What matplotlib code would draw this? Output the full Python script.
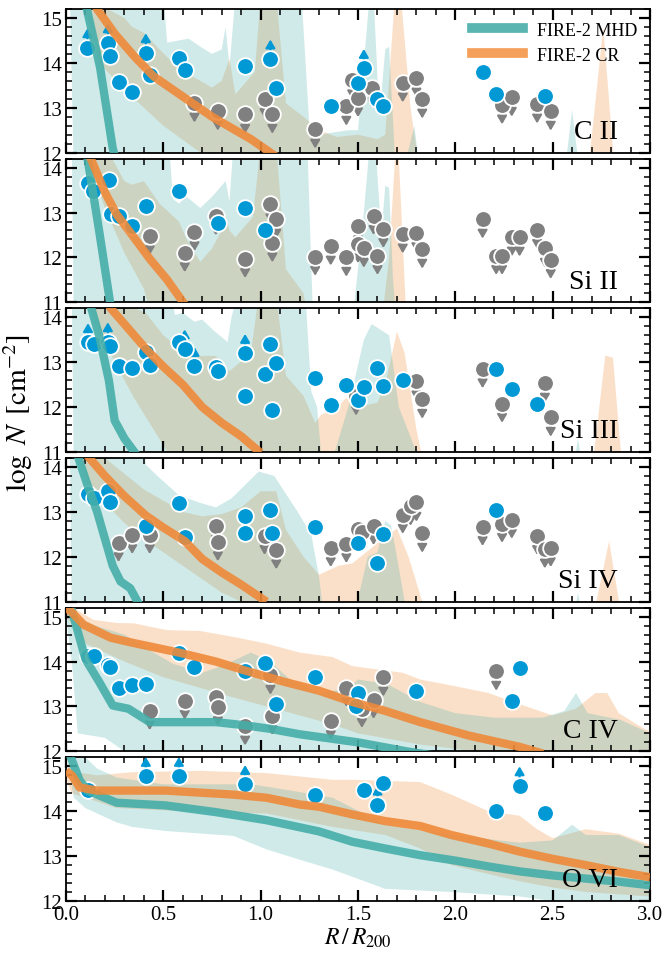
import numpy as np
import matplotlib
matplotlib.use("Agg")
import matplotlib.pyplot as plt
from matplotlib.lines import Line2D
from matplotlib.ticker import MultipleLocator

plt.rcParams['font.family'] = ['Liberation Serif', 'DejaVu Serif']
plt.rcParams['mathtext.fontset'] = 'stix'

MHD_COLOR = '#46aea9'
CR_COLOR = '#ee8a3a'
DET_COLOR = '#0099d6'
LIM_COLOR = '#808080'

# observed columns: R/R200, log N, flag (d = detection, l = lower limit, u = upper limit)
cii_r = [0.11, 0.215, 0.226, 0.27, 0.34, 0.41, 0.43, 0.58, 0.61, 0.66, 0.78, 0.92, 0.92, 1.02, 1.05,
         1.08, 1.06, 1.28, 1.36, 1.44, 1.47, 1.50, 1.50, 1.53, 1.57, 1.60, 1.63, 1.73, 1.80, 1.83,
         2.14, 2.21, 2.24, 2.29, 2.42, 2.46, 2.49]
cii_n = [14.34, 14.45, 14.16, 13.57, 13.35, 14.23, 13.73, 14.11, 13.84, 13.10, 12.92, 13.94, 12.85,
         13.20, 14.09, 13.44, 12.85, 12.52, 13.03, 13.03, 13.62, 13.22, 13.55, 13.88, 13.45, 13.20,
         13.04, 13.55, 13.66, 13.19, 13.80, 13.30, 13.06, 13.23, 13.08, 13.26, 12.92]
cii_f = "lldddldddu" "uduulduudu" "uudludduuu" "dduuudu"

siii_r = [0.113, 0.14, 0.22, 0.23, 0.27, 0.34, 0.41, 0.43, 0.58, 0.66, 0.61, 0.77, 0.78, 0.92, 0.92,
          1.02, 1.05, 1.08, 1.06, 1.28, 1.36, 1.44, 1.50, 1.50, 1.53, 1.58, 1.63, 1.60, 1.73, 1.80,
          1.83, 2.14, 2.21, 2.24, 2.29, 2.33, 2.42, 2.46, 2.49]
siii_n = [13.65, 13.47, 13.72, 12.96, 12.92, 12.69, 13.15, 12.48, 13.49, 12.57, 12.10, 12.92, 12.76,
          13.10, 11.97, 12.62, 13.19, 12.85, 12.32, 12.02, 12.25, 12.00, 12.70, 12.30, 12.20, 12.93,
          12.64, 12.04, 12.52, 12.55, 12.18, 12.85, 12.04, 12.04, 12.45, 12.45, 12.62, 12.20, 11.95]
siii_f = "ddddddduduuudduduuuuuuuuuuuuuuuuuuuuuuu"

siiii_r = [0.113, 0.145, 0.215, 0.226, 0.27, 0.34, 0.41, 0.43, 0.58, 0.61, 0.66, 0.77, 0.78, 0.92,
           0.92, 1.02, 1.05, 1.08, 1.06, 1.28, 1.36, 1.44, 1.49, 1.50, 1.53, 1.60, 1.63, 1.73, 1.80,
           1.83, 2.14, 2.21, 2.29, 2.24, 2.46, 2.42, 2.49]
siiii_n = [13.44, 13.40, 13.46, 13.37, 12.92, 12.87, 13.23, 12.94, 13.44, 13.30, 12.91, 12.90, 12.81,
           13.20, 12.24, 12.74, 13.40, 12.98, 11.94, 12.65, 12.04, 12.50, 12.24, 12.15, 12.44, 12.87,
           12.47, 12.60, 12.58, 12.17, 12.85, 12.85, 12.40, 12.08, 12.53, 12.08, 11.77]
siiii_f = "ldlddddldllddldddddddduddddduuudduudu"

siiv_r = [0.113, 0.145, 0.215, 0.226, 0.27, 0.34, 0.43, 0.41, 0.58, 0.61, 0.77, 0.78, 0.92, 0.92,
          1.02, 1.05, 1.06, 1.08, 1.28, 1.36, 1.44, 1.50, 1.52, 1.58, 1.50, 1.63, 1.60, 1.73, 1.77,
          1.80, 1.83, 2.14, 2.24, 2.29, 2.21, 2.42, 2.46, 2.49]
siiv_n = [13.39, 13.32, 13.46, 13.21, 12.31, 12.49, 12.49, 12.69, 13.20, 12.44, 12.69, 12.33, 12.90,
          12.54, 12.47, 13.05, 12.54, 12.15, 12.67, 12.20, 12.29, 12.62, 12.55, 12.69, 12.30, 12.51,
          11.87, 12.94, 13.12, 13.21, 12.52, 12.67, 12.74, 12.83, 13.05, 12.47, 12.17, 12.20]
siiv_f = "dddduuuddduuddudduduuuuuddduuuuuuuduuu"

civ_r = [0.113, 0.145, 0.215, 0.226, 0.27, 0.34, 0.41, 0.43, 0.58, 0.66, 0.61, 0.77, 0.78, 0.92,
         0.92, 1.02, 1.05, 1.08, 1.06, 1.28, 1.36, 1.44, 1.50, 1.49, 1.52, 1.58, 1.63, 1.80, 2.21,
         2.33, 2.29]
civ_n = [14.12, 14.12, 13.92, 13.87, 13.42, 13.47, 13.49, 12.90, 14.19, 13.87, 13.13, 13.20, 12.99,
         13.78, 12.56, 13.96, 13.69, 13.06, 12.79, 13.65, 12.68, 13.42, 13.31, 13.02, 12.95, 13.15,
         13.65, 13.34, 13.78, 13.85, 13.13]
civ_f = "dddddddudduuududududuudduuududdu"[:31]

ovi_r = [0.113, 0.41, 0.58, 0.92, 1.28, 1.53, 1.63, 1.60, 2.21, 2.33, 2.46]
ovi_n = [14.48, 14.78, 14.78, 14.60, 14.37, 14.48, 14.62, 14.14, 14.00, 14.57, 13.95]
ovi_f = "dllldddldld"

# simulation medians
cii_mhd_r = [0.05, 0.107, 0.175, 0.24, 0.27]
cii_mhd_n = [16.2, 15.2, 13.9, 12.1, 11.6]
cii_cr_r = [0.1, 0.16, 0.25, 0.35, 0.45, 0.55, 0.65, 0.75, 0.85, 0.95, 1.05, 1.1]
cii_cr_n = [15.7, 15.2, 14.65, 14.15, 13.7, 13.4, 13.1, 12.8, 12.55, 12.3, 12.0, 11.85]

siii_mhd_r = [0.05, 0.107, 0.17, 0.23]
siii_mhd_n = [15.5, 14.3, 12.6, 10.9]
siii_cr_r = [0.08, 0.12, 0.2, 0.26, 0.34, 0.43, 0.52, 0.61]
siii_cr_n = [14.9, 14.28, 13.45, 12.96, 12.5, 11.97, 11.5, 10.95]

siiii_mhd_r = [0.08, 0.13, 0.17, 0.22, 0.25, 0.3, 0.36]
siiii_mhd_n = [15.0, 14.2, 13.6, 12.6, 11.7, 11.3, 10.95]
siiii_cr_r = [0.15, 0.23, 0.32, 0.41, 0.5, 0.6, 0.7, 0.8, 0.9, 1.0]
siiii_cr_n = [14.9, 14.2, 13.75, 13.3, 12.9, 12.5, 12.0, 11.65, 11.35, 10.98]

siiv_mhd_r = [0.03, 0.06, 0.11, 0.16, 0.2, 0.24, 0.28, 0.33, 0.38]
siiv_mhd_n = [14.8, 14.25, 13.6, 13.0, 12.4, 11.8, 11.45, 11.3, 10.9]
siiv_cr_r = [0.05, 0.12, 0.2, 0.3, 0.41, 0.5, 0.61, 0.7, 0.8, 0.9, 1.03]
siiv_cr_n = [14.6, 14.2, 13.8, 13.35, 12.92, 12.65, 12.35, 11.95, 11.65, 11.38, 11.0]

civ_mhd_r = [0.0, 0.03, 0.1, 0.17, 0.24, 0.32, 0.43, 0.6, 0.77, 0.92, 1.05, 1.2, 1.3, 1.5, 1.75, 1.9]
civ_mhd_n = [15.4, 15.15, 14.05, 13.55, 13.02, 12.95, 12.65, 12.65, 12.65, 12.58, 12.5, 12.38, 12.32,
             12.2, 12.0, 11.9]
civ_cr_r = [0.0, 0.03, 0.09, 0.23, 0.34, 0.58, 0.77, 0.92, 1.12, 1.3, 1.47, 1.64, 1.82, 2.07, 2.33,
            2.45]
civ_cr_n = [15.2, 15.1, 14.82, 14.53, 14.42, 14.2, 14.0, 13.8, 13.55, 13.35, 13.1, 12.9, 12.65,
            12.35, 12.1, 11.95]

ovi_mhd_r = [0.0, 0.03, 0.07, 0.11, 0.26, 0.51, 0.77, 1.03, 1.3, 1.47, 1.64, 1.82, 2.0, 2.17, 2.33,
             2.5, 2.67, 2.84, 3.0]
ovi_mhd_n = [15.5, 15.14, 14.69, 14.46, 14.19, 14.13, 13.98, 13.8, 13.55, 13.32, 13.17, 13.02, 12.9,
             12.77, 12.66, 12.57, 12.5, 12.43, 12.35]
ovi_cr_r = [0.0, 0.03, 0.07, 0.16, 0.51, 0.86, 1.03, 1.2, 1.3, 1.47, 1.64, 1.82, 1.98, 2.17, 2.33,
            2.5, 2.67, 2.84, 3.0]
ovi_cr_n = [14.9, 14.8, 14.53, 14.46, 14.46, 14.37, 14.3, 14.15, 14.1, 13.93, 13.78, 13.67, 13.47,
            13.28, 13.1, 12.94, 12.8, 12.65, 12.53]

# 16th-84th percentile envelopes: upper edge (r, N) and lower edge (r, N)
cii_mhd_hi_r = [0.02, 0.5, 0.52, 0.58, 0.63, 0.69, 0.75, 0.8, 0.82, 0.84, 0.87, 1.21, 1.25, 1.28, 1.3,
                1.45, 1.5, 1.56, 1.58, 1.61, 1.64, 1.66, 1.69, 1.75, 1.79, 1.82, 2.56, 2.6, 2.64, 3.0]
cii_mhd_hi_n = [15.5, 15.5, 14.45, 14.5, 14.54, 14.36, 14.2, 14.3, 14.8, 13.9, 15.5, 15.5, 12.6, 12.3,
                12.4, 12.5, 12.5, 15.5, 15.5, 12.8, 14.3, 14.36, 11.9, 11.9, 12.6, 11.5, 11.5, 12.95,
                11.5, 11.5]
cii_mhd_lo_r = [0.02, 0.04, 3.0]
cii_mhd_lo_n = [15.5, 11.5, 11.5]
cii_cr_hi_r = [0.08, 0.3, 0.34, 0.4, 0.48, 0.55, 0.62, 0.69, 0.75, 0.8, 0.84, 0.87, 0.97, 1.0, 1.08,
               1.13, 1.22, 1.3, 1.39, 1.5, 1.6, 1.64, 1.69, 1.72, 1.77, 1.82, 2.68, 2.76, 2.82, 3.0]
cii_cr_hi_n = [15.5, 15.0, 14.8, 14.67, 14.3, 14.0, 13.77, 13.6, 13.45, 13.6, 14.1, 13.3, 13.8, 15.5,
               15.5, 13.1, 12.8, 12.5, 12.35, 12.4, 12.3, 12.4, 15.5, 15.5, 13.0, 11.5, 11.5, 14.8,
               11.5, 11.5]
cii_cr_lo_r = [0.08, 0.17, 0.3, 0.5, 0.69, 0.75, 3.0]
cii_cr_lo_n = [15.5, 14.0, 13.4, 12.6, 12.0, 11.5, 11.5]

siii_mhd_hi_r = [0.03, 0.53, 0.55, 0.58, 0.62, 0.69, 0.75, 0.82, 0.84, 0.86, 1.24, 1.27, 1.47, 1.53,
                 1.56, 1.59, 1.62, 1.64, 1.66, 1.68, 1.7, 3.0]
siii_mhd_hi_n = [14.5, 14.5, 13.3, 13.2, 13.35, 13.1, 13.35, 13.7, 13.25, 14.5, 14.5, 10.5, 10.5, 13.0,
                 14.5, 14.5, 12.5, 13.6, 13.55, 11.5, 10.5, 10.5]
siii_mhd_lo_r = [0.03, 0.04, 3.0]
siii_mhd_lo_n = [14.5, 10.5, 10.5]
siii_cr_hi_r = [0.08, 0.2, 0.3, 0.34, 0.4, 0.48, 0.58, 0.62, 0.69, 0.75, 0.8, 0.82, 0.84, 0.87, 0.96,
                1.0, 1.08, 1.13, 1.22, 1.25, 1.62, 1.66, 1.69, 1.71, 1.75, 3.0]
siii_cr_hi_n = [14.5, 14.5, 13.7, 13.62, 13.7, 13.2, 12.8, 12.4, 11.9, 12.2, 12.6, 12.95, 12.6, 12.45,
                12.9, 14.5, 14.5, 11.74, 11.2, 10.5, 10.5, 12.0, 14.2, 14.2, 10.5, 10.5]
siii_cr_lo_r = [0.08, 0.1, 0.2, 0.3, 0.4, 0.45, 3.0]
siii_cr_lo_n = [14.5, 14.3, 13.1, 12.1, 11.3, 10.5, 10.5]

siiii_mhd_hi_r = [0.03, 0.54, 0.56, 0.6, 0.66, 0.7, 0.76, 0.83, 0.85, 0.88, 1.23, 1.26, 1.29, 1.32,
                  1.38, 1.45, 1.53, 1.57, 1.66, 1.71, 1.8, 2.6, 2.63, 2.66, 3.0]
siiii_mhd_hi_n = [14.5, 14.5, 14.05, 14.1, 13.9, 13.95, 13.7, 13.45, 14.0, 14.5, 14.5, 12.35, 12.0,
                  10.5, 11.0, 12.0, 13.5, 13.85, 13.6, 12.0, 11.0, 10.5, 11.3, 10.5, 10.5]
siiii_mhd_lo_r = [0.03, 0.04, 3.0]
siiii_mhd_lo_n = [14.5, 10.5, 10.5]
siiii_cr_hi_r = [0.1, 0.2, 0.3, 0.41, 0.5, 0.6, 0.69, 0.77, 0.84, 0.95, 0.99, 1.08, 1.13, 1.22, 1.28,
                 1.31, 1.38, 1.44, 1.5, 1.6, 1.64, 1.7, 1.74, 1.8, 1.85, 2.7, 2.77, 2.81, 2.86, 3.0]
siiii_cr_hi_n = [14.5, 14.5, 14.3, 14.1, 13.6, 13.25, 13.14, 13.14, 12.8, 13.2, 14.5, 14.5, 12.7, 12.25,
                 11.65, 11.83, 11.95, 12.2, 12.0, 12.1, 12.5, 13.68, 13.2, 11.5, 10.5, 10.5, 13.15,
                 13.1, 10.5, 10.5]
siiii_cr_lo_r = [0.1, 0.15, 0.25, 0.35, 0.45, 0.55, 3.0]
siiii_cr_lo_n = [14.5, 13.9, 13.0, 12.2, 11.5, 10.8, 10.5]

siiv_mhd_hi_r = [0.02, 0.4, 0.41, 0.47, 0.58, 0.69, 0.77, 0.85, 0.99, 1.07, 1.19, 1.26, 1.3, 1.33,
                 1.47, 1.55, 1.6, 1.64, 1.67, 1.7, 1.76, 2.6, 2.63, 2.66, 3.0]
siiv_mhd_hi_n = [14.5, 14.5, 14.05, 13.8, 13.37, 13.2, 13.1, 13.3, 13.9, 13.8, 13.0, 12.5, 11.55, 10.5,
                 10.5, 12.0, 12.1, 12.8, 12.7, 12.0, 10.5, 10.5, 11.2, 10.5, 10.5]
siiv_mhd_lo_r = [0.02, 0.03, 3.0]
siiv_mhd_lo_n = [14.5, 10.5, 10.5]
siiv_cr_hi_r = [0.05, 0.1, 0.2, 0.3, 0.4, 0.5, 0.6, 0.7, 0.8, 0.9, 1.0, 1.08, 1.13, 1.22, 1.3, 1.4,
                1.47, 1.6, 1.7, 1.76, 1.83, 1.88, 2.7, 2.79, 2.86, 3.0]
siiv_cr_hi_n = [14.5, 14.6, 14.2, 13.85, 13.5, 13.25, 13.0, 12.9, 12.95, 13.1, 13.46, 13.46, 12.6, 12.0,
                11.6, 11.8, 11.85, 12.3, 12.63, 12.0, 11.0, 10.5, 10.5, 12.35, 10.5, 10.5]
siiv_cr_lo_r = [0.05, 0.1, 0.2, 0.3, 0.4, 0.5, 0.6, 0.7, 0.8, 0.9, 1.0, 3.0]
siiv_cr_lo_n = [14.5, 13.7, 13.2, 12.75, 12.4, 12.1, 11.8, 11.5, 11.2, 11.0, 10.5, 10.5]

civ_mhd_hi_r = [0.0, 0.05, 0.15, 0.3, 0.45, 0.55, 0.7, 0.8, 0.95, 1.05, 1.15, 1.3, 1.45, 1.5, 1.65,
                1.82, 2.0, 2.2, 2.45, 2.56, 2.62, 2.68, 2.85, 3.0]
civ_mhd_hi_n = [15.3, 15.0, 14.8, 14.6, 14.2, 13.95, 13.75, 13.9, 14.2, 14.0, 13.6, 13.3, 13.4, 13.6,
                13.5, 13.1, 12.85, 12.75, 12.75, 12.9, 13.3, 12.85, 12.7, 12.4]
civ_mhd_lo_r = [0.0, 0.03, 0.06, 0.2, 0.3, 0.4, 3.0]
civ_mhd_lo_n = [15.0, 14.0, 12.4, 12.3, 12.0, 11.5, 11.5]
civ_cr_hi_r = [0.0, 0.14, 0.26, 0.35, 0.52, 0.69, 0.86, 1.03, 1.2, 1.37, 1.47, 1.64, 1.73, 1.82, 2.0,
               2.17, 2.33, 2.5, 2.62, 2.72, 2.78, 2.84, 2.97, 3.0]
civ_cr_hi_n = [15.3, 14.93, 14.86, 14.85, 14.7, 14.68, 14.55, 14.4, 14.2, 14.1, 13.9, 13.8, 13.75, 13.6,
               13.45, 13.3, 13.05, 12.8, 12.95, 13.3, 13.3, 12.85, 12.5, 12.45]
civ_cr_lo_r = [0.0, 0.1, 0.3, 0.5, 0.7, 0.86, 1.03, 1.2, 1.37, 1.5, 1.82, 2.2, 3.0]
civ_cr_lo_n = [15.0, 14.4, 14.0, 13.65, 13.4, 13.2, 13.0, 12.8, 12.6, 12.4, 12.15, 11.95, 11.5]

ovi_mhd_hi_r = [0.0, 0.1, 0.16, 0.26, 0.5, 0.75, 0.95, 1.1, 1.37, 1.64, 1.98, 2.33, 2.5, 2.6, 2.67,
                2.84, 3.0]
ovi_mhd_hi_n = [15.4, 15.2, 14.95, 14.75, 14.6, 14.6, 14.6, 14.5, 14.3, 13.7, 13.47, 13.3, 13.35, 13.7,
                13.47, 13.47, 13.2]
ovi_mhd_lo_r = [0.0, 0.04, 0.1, 0.26, 0.34, 0.51, 0.86, 1.03, 1.2, 1.37, 1.64, 1.98, 2.33, 2.5, 2.6,
                3.0]
ovi_mhd_lo_n = [15.4, 14.3, 14.07, 13.75, 13.65, 13.56, 13.45, 13.15, 12.92, 12.7, 12.27, 12.2, 12.1,
                12.0, 11.5, 11.5]
ovi_cr_hi_r = [0.0, 0.16, 0.34, 0.69, 1.03, 1.37, 1.47, 1.82, 1.98, 2.17, 2.33, 2.42, 2.5, 2.67, 2.84,
               3.0]
ovi_cr_hi_n = [14.9, 14.8, 14.87, 14.9, 14.85, 14.7, 14.7, 14.65, 14.37, 14.0, 13.9, 13.6, 13.4, 13.6,
               13.5, 13.25]
ovi_cr_lo_r = [0.0, 0.03, 0.1, 0.26, 0.69, 1.03, 1.37, 1.64, 1.82, 1.98, 2.17, 2.33, 2.5, 2.67, 3.0]
ovi_cr_lo_n = [14.7, 14.4, 14.3, 14.07, 13.98, 13.95, 13.65, 13.47, 13.17, 12.8, 12.6, 12.44, 12.3,
               12.2, 12.1]

panels = [
    ('C II', (12, 15.2), cii_r, cii_n, cii_f,
     (cii_mhd_r, cii_mhd_n, cii_mhd_hi_r, cii_mhd_hi_n, cii_mhd_lo_r, cii_mhd_lo_n),
     (cii_cr_r, cii_cr_n, cii_cr_hi_r, cii_cr_hi_n, cii_cr_lo_r, cii_cr_lo_n)),
    ('Si II', (11, 14.2), siii_r, siii_n, siii_f,
     (siii_mhd_r, siii_mhd_n, siii_mhd_hi_r, siii_mhd_hi_n, siii_mhd_lo_r, siii_mhd_lo_n),
     (siii_cr_r, siii_cr_n, siii_cr_hi_r, siii_cr_hi_n, siii_cr_lo_r, siii_cr_lo_n)),
    ('Si III', (11, 14.2), siiii_r, siiii_n, siiii_f,
     (siiii_mhd_r, siiii_mhd_n, siiii_mhd_hi_r, siiii_mhd_hi_n, siiii_mhd_lo_r, siiii_mhd_lo_n),
     (siiii_cr_r, siiii_cr_n, siiii_cr_hi_r, siiii_cr_hi_n, siiii_cr_lo_r, siiii_cr_lo_n)),
    ('Si IV', (11, 14.2), siiv_r, siiv_n, siiv_f,
     (siiv_mhd_r, siiv_mhd_n, siiv_mhd_hi_r, siiv_mhd_hi_n, siiv_mhd_lo_r, siiv_mhd_lo_n),
     (siiv_cr_r, siiv_cr_n, siiv_cr_hi_r, siiv_cr_hi_n, siiv_cr_lo_r, siiv_cr_lo_n)),
    ('C IV', (12, 15.2), civ_r, civ_n, civ_f,
     (civ_mhd_r, civ_mhd_n, civ_mhd_hi_r, civ_mhd_hi_n, civ_mhd_lo_r, civ_mhd_lo_n),
     (civ_cr_r, civ_cr_n, civ_cr_hi_r, civ_cr_hi_n, civ_cr_lo_r, civ_cr_lo_n)),
    ('O VI', (12, 15.2), ovi_r, ovi_n, ovi_f,
     (ovi_mhd_r, ovi_mhd_n, ovi_mhd_hi_r, ovi_mhd_hi_n, ovi_mhd_lo_r, ovi_mhd_lo_n),
     (ovi_cr_r, ovi_cr_n, ovi_cr_hi_r, ovi_cr_hi_n, ovi_cr_lo_r, ovi_cr_lo_n)),
]


def envelope(ax, hi_r, hi_n, lo_r, lo_n, color, alpha):
    xs = list(hi_r) + list(lo_r)[::-1]
    ys = list(hi_n) + list(lo_n)[::-1]
    ax.fill(xs, ys, color=color, alpha=alpha, lw=0, zorder=1)


def limit_arrow(ax, x, y, dy, color):
    ax.annotate('', xy=(x, y + dy), xytext=(x, y),
                arrowprops=dict(arrowstyle='-|>,head_length=0.6,head_width=0.35', color=color,
                                lw=1.6, mutation_scale=8, shrinkA=0, shrinkB=0),
                zorder=2, annotation_clip=False)


fig, axes = plt.subplots(6, 1, figsize=(6.63, 9.54), dpi=100, sharex=True)
fig.subplots_adjust(left=66 / 663, right=650 / 663, top=1 - 10 / 954, bottom=1 - 902 / 954,
                    hspace=0.042)

for ax, (ion, ylim, r, n, f, mhd, cr) in zip(axes, panels):
    envelope(ax, cr[2], cr[3], cr[4], cr[5], '#f59a4f', 0.3)
    envelope(ax, mhd[2], mhd[3], mhd[4], mhd[5], '#49b1ac', 0.26)

    r = np.array(r)
    n = np.array(n)
    flags = np.array(list(f))
    for x, y, fl in zip(r, n, flags):
        if fl == 'u':
            limit_arrow(ax, x, y, -0.43, LIM_COLOR)
        elif fl == 'l':
            limit_arrow(ax, x, y, 0.43, DET_COLOR)
    up = flags == 'u'
    ax.plot(r[up], n[up], 'o', ms=12, color=LIM_COLOR, mec='white', mew=1.3, zorder=3)
    ax.plot(r[~up], n[~up], 'o', ms=12, color=DET_COLOR, mec='white', mew=1.3, zorder=3)

    ax.plot(mhd[0], mhd[1], color=MHD_COLOR, lw=6, alpha=0.9, solid_capstyle='butt', zorder=4)
    ax.plot(cr[0], cr[1], color=CR_COLOR, lw=6, alpha=0.9, solid_capstyle='butt', zorder=4)

    ax.set_xlim(0, 3.0)
    ax.set_ylim(*ylim)
    ax.xaxis.set_major_locator(MultipleLocator(0.5))
    ax.xaxis.set_minor_locator(MultipleLocator(0.1))
    ax.yaxis.set_major_locator(MultipleLocator(1))
    ax.yaxis.set_minor_locator(MultipleLocator(0.2))
    ax.tick_params(which='both', direction='in', top=True, right=True, labelsize=15, pad=3)
    ax.tick_params(which='major', length=8, width=1.6)
    ax.tick_params(which='minor', length=4.5, width=1.1)
    for s in ax.spines.values():
        s.set_linewidth(1.3)
    ax.text(0.945, 0.06, ion, transform=ax.transAxes, ha='right', va='bottom', fontsize=20,
            zorder=5)

handles = [Line2D([], [], color='#5ab5b0', lw=7),
           Line2D([], [], color='#f4a05a', lw=7)]
axes[0].legend(handles, ['FIRE-2 MHD', 'FIRE-2 CR'], loc='upper right', frameon=False,
               fontsize=13, handlelength=2.8, borderaxespad=0.3, labelspacing=0.45)

axes[-1].set_xlabel(r'$R\,/\,R_{200}$', fontsize=17, labelpad=1)
fig.text(0.028, 0.567, r'$\log\ N\ \,[\mathrm{cm}^{-2}]$', rotation=90, va='center', ha='center',
         fontsize=21)

fig.savefig('out.png', dpi=100)
